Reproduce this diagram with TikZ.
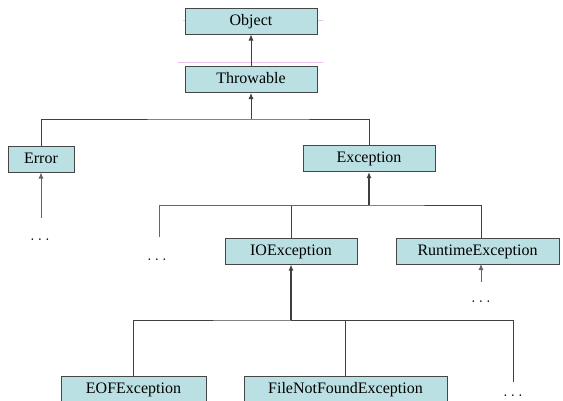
\documentclass[tikz,border=0pt]{standalone}
\usepackage{fontspec}
\setmainfont{Liberation Serif}
\usetikzlibrary{arrows.meta}
\definecolor{boxfill}{RGB}{187,224,227}
\definecolor{boxline}{RGB}{70,70,70}
\definecolor{pinkish}{RGB}{235,195,238}
\begin{document}
\begin{tikzpicture}[x=1pt,y=-1pt,
  cls/.style={draw=boxline,fill=boxfill,line width=1pt,minimum height=26pt,inner sep=0pt,text height=11.5pt,text depth=3.5pt,font=\fontsize{16}{18}\selectfont},
  conn/.style={draw=black!75,line width=0.8pt},
  lconn/.style={draw=black!60,line width=0.8pt},
  arr/.style={-{Latex[length=6pt,width=5pt]}},
  thk/.style={line width=1.6pt},
  dotsnode/.style={inner sep=0pt,font=\fontsize{16}{18}\selectfont}]
\useasboundingbox (0,0) rectangle (563,400);
\draw[pinkish,line width=1pt] (183,20) -- (323,20);
\draw[pinkish,line width=1.2pt] (178,62.5) -- (323,62.5);
\node[cls,minimum width=132pt] (obj) at (251,21) {Object};
\node[cls,minimum width=132pt] (thr) at (251,79.5) {Throwable};
\node[cls,minimum width=66pt] (err) at (41,159) {Error};
\node[cls,minimum width=132pt] (exc) at (369,158.5) {Exception};
\node[cls,minimum width=132pt] (ioe) at (291,251) {IOException};
\node[cls,minimum width=163pt] (rte) at (477.5,251) {RuntimeException};
\node[cls,minimum width=145pt] (eof) at (133.5,389) {EOFException};
\node[cls,minimum width=203pt] (fnf) at (345.5,389) {FileNotFoundException};
\node[dotsnode] (d1) at (40,240) {$\ldots$};
\node[dotsnode] (d2) at (157,260) {$\ldots$};
\node[dotsnode] (d3) at (481,302) {$\ldots$};
\node[dotsnode] (d4) at (513,396) {$\ldots$};
\coordinate (j1) at (251,119);
\coordinate (j2) at (369,205);
\coordinate (j3) at (291,320);
\coordinate (d1t) at (41,218);
\coordinate (d2t) at (159,237);
\coordinate (d3t) at (481,282);
\coordinate (d4t) at (513,382);
\coordinate (rtet) at (481,238);
\coordinate (rteb) at (481,264);
% arrows
\draw[conn,arr] (thr.north) -- (obj.south);
\draw[conn,arr] (j1) -- (thr.south);
\draw[conn] (err.north) |- (j1) -| (exc.north);
\draw[lconn,arr] (d1t) -- (err.south);
\draw[conn,thk,arr] (j2) -- (exc.south);
\draw[conn] (ioe.north) |- (j2) -| (rtet);
\draw[lconn] (d2t) |- (j2);
\draw[lconn,arr] (d3t) -- (rteb);
\draw[conn,thk,arr] (j3) -- (ioe.south);
\draw[conn] (eof.north) |- (j3) -| (fnf.north);
\draw[conn] (j3) -| (d4t);
\end{tikzpicture}
\end{document}
